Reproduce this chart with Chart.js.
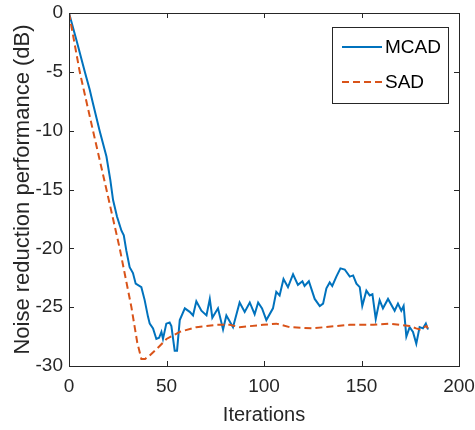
<!DOCTYPE html>
<html>
<head>
<meta charset="utf-8">
<script src="https://cdn.jsdelivr.net/npm/chart.js@4/dist/chart.umd.min.js"></script>
<style>
  html, body { margin: 0; padding: 0; background: #fff; }
  #wrap { width: 475px; height: 430px; position: relative; }
</style>
</head>
<body>
<div id="wrap"><canvas id="chart"></canvas></div>
<script>
// values
const mcadIter = [0, 3.8, 8.1, 10.6, 12.3, 15.7, 19.2, 21.2, 22.6, 24.6, 26.9, 28.1, 29.4, 31.1, 32.8, 34.2, 37.1, 38.8, 40.5, 41.4, 43.1, 44.8, 46.2, 47.4, 48.2, 49.9, 51.6, 52.5, 54.2, 55.4, 56.8,
  59.4, 61.9, 63.6, 65.3, 67.9, 70.5, 72.2, 73.5, 76.4, 79, 80.7, 84.1, 87.5, 90.1, 92.7, 95.2, 97, 99, 101.2, 104.6, 106.3, 108, 110, 112.3, 114.9, 117.4, 119.7, 120.8, 123,
  126, 128.6, 130.3, 132, 133.7, 135, 137.1, 139.2, 141.4, 144, 145.7, 147.4, 149.1, 150.4, 152.5, 154.2, 155.6, 157.3, 159.3, 161, 163.6, 167, 168.7, 170.4, 171.6, 173, 174.7, 176.4, 178.1, 179.8, 181.5, 183, 184.1]
const mcadDb = [0, -2.3, -5.0, -6.5, -7.7, -10.0, -12.2, -14.2, -15.9, -17.3, -18.5, -18.9, -20.2, -21.6, -22.1, -23.0, -23.3, -24.4, -25.8, -26.4, -26.8, -27.7, -27.6, -27.1, -27.7, -26.4, -26.3, -26.6, -28.7, -28.7, -26.1,
  -25.1, -25.4, -25.7, -24.5, -25.3, -25.7, -24.3, -25.9, -25.1, -26.9, -25.7, -26.7, -24.6, -25.4, -24.6, -25.6, -24.6, -25.1, -26.1, -25.1, -23.7, -24.0, -22.6, -23.3, -22.2, -23.1, -22.8, -23.2, -22.8,
  -24.3, -24.9, -24.7, -23.4, -22.9, -23.2, -22.4, -21.7, -21.8, -22.4, -22.3, -23.0, -23.3, -24.9, -23.6, -24.0, -23.9, -26.0, -24.4, -25.1, -24.3, -25.3, -24.7, -25.3, -24.9, -27.5, -26.7, -27.1, -28.1, -26.7, -26.8, -26.4, -26.9]

const sadIter = [0, 5.5, 12.3, 19.2, 26, 32, 35, 37.1, 39, 41.4, 46.5, 50, 56.8, 65.3, 75.6, 82.4, 87.5, 99.5, 106.3, 113.2, 125, 131, 144, 156, 164.5, 174.7, 178, 180, 183.3, 184]
const sadDb = [0, -5, -10, -15, -20, -25, -28, -29.4, -29.4, -29.1, -28.3, -27.7, -27.1, -26.7, -26.5, -26.5, -26.7, -26.5, -26.4, -26.7, -26.8, -26.7, -26.5, -26.5, -26.4, -26.6, -26.8, -26.9, -26.6, -26.8]

const xTicks = [0, 50, 100, 150, 200]
const yTicks = [-30, -25, -20, -15, -10, -5, 0]

const axisColor = '#262626'
const blue = '#0072BD'
const orange = '#D95319'
const fontFamily = '"Liberation Sans", Arial, sans-serif'

function toPoints (xs, ys) {
  return xs.map((x, i) => ({x: x, y: ys[i]}))
}

// MATLAB style frame with inward ticks + legend box
const matlabBox = {
  id: 'matlabBox',
  afterDatasetsDraw (chart) {
    const ctx = chart.ctx,
          a   = chart.chartArea,
          xs  = chart.scales.x,
          ys  = chart.scales.y,
          tl  = 5
    ctx.save()
    ctx.strokeStyle = axisColor
    ctx.lineWidth = 1
    ctx.beginPath()
    xTicks.forEach(v => {
      const px = Math.round(xs.getPixelForValue(v)) + 0.5
      ctx.moveTo(px, a.bottom); ctx.lineTo(px, a.bottom - tl)
      ctx.moveTo(px, a.top); ctx.lineTo(px, a.top + tl)
    })
    yTicks.forEach(v => {
      const py = Math.round(ys.getPixelForValue(v)) + 0.5
      ctx.moveTo(a.left, py); ctx.lineTo(a.left + tl, py)
      ctx.moveTo(a.right, py); ctx.lineTo(a.right - tl, py)
    })
    ctx.stroke()
    ctx.strokeRect(Math.round(a.left) + 0.5, Math.round(a.top) + 0.5, Math.round(a.right - a.left), Math.round(a.bottom - a.top))

    //Legend
    const lx = 332, ly = 27, lw = 116, lh = 76
    ctx.fillStyle = '#fff'
    ctx.fillRect(lx, ly, lw, lh)
    ctx.strokeRect(lx + 0.5, ly + 0.5, lw, lh)
    chart.data.datasets.forEach((ds, i) => {
      const y = ly + 20 + i * 35
      ctx.strokeStyle = ds.borderColor
      ctx.lineWidth = 2
      ctx.setLineDash(ds.borderDash || [])
      ctx.beginPath()
      ctx.moveTo(lx + 10, y); ctx.lineTo(lx + 50, y)
      ctx.stroke()
      ctx.setLineDash([])
      ctx.fillStyle = '#000'
      ctx.font = '19px ' + fontFamily
      ctx.textBaseline = 'middle'
      ctx.fillText(ds.label, lx + 53, y + 1)
    })
    ctx.restore()
  }
}

new Chart(document.getElementById('chart'), {
  type   : 'line',
  data   : {
    datasets: [{
      label      : 'MCAD',
      data       : toPoints(mcadIter, mcadDb),
      borderColor: blue,
      borderWidth: 2,
      pointRadius: 0,
      tension    : 0,
      order      : 1
    }, {
      label      : 'SAD',
      data       : toPoints(sadIter, sadDb),
      borderColor: orange,
      borderWidth: 2,
      borderDash : [7, 4],
      pointRadius: 0,
      tension    : 0,
      order      : 0
    }]
  },
  options: {
    responsive         : true,
    maintainAspectRatio: false,
    animation          : false,
    layout             : {padding: {top: 13, right: 16, left: 0, bottom: 0}},
    plugins            : {legend: {display: false}, tooltip: {enabled: false}},
    scales             : {
      x: {
        type    : 'linear',
        min     : 0,
        max     : 200,
        grid    : {display: false, drawTicks: false},
        border  : {display: false},
        afterFit: s => {
          s.height = 64
          s.paddingLeft = 0
          s.paddingRight = 0
        },
        ticks   : {
          stepSize   : 50,
          padding    : 9,
          maxRotation: 0,
          color      : axisColor,
          font       : {family: fontFamily, size: 19}
        },
        title   : {
          display: true,
          text   : 'Iterations',
          color  : axisColor,
          padding: {top: 0, bottom: 3},
          font   : {family: fontFamily, size: 20}
        }
      },
      y: {
        min     : -30,
        max     : 0,
        grid    : {display: false, drawTicks: false},
        border  : {display: false},
        afterFit: s => {
          s.width = 69
          s.paddingTop = 0
          s.paddingBottom = 0
        },
        ticks   : {
          stepSize: 5,
          padding : 6,
          color   : axisColor,
          font    : {family: fontFamily, size: 19}
        },
        title   : {
          display: true,
          text   : 'Noise reduction performance (dB)',
          color  : axisColor,
          padding: {top: 10, bottom: 0},
          font   : {family: fontFamily, size: 22}
        }
      }
    }
  },
  plugins: [matlabBox]
})
</script>
</body>
</html>
